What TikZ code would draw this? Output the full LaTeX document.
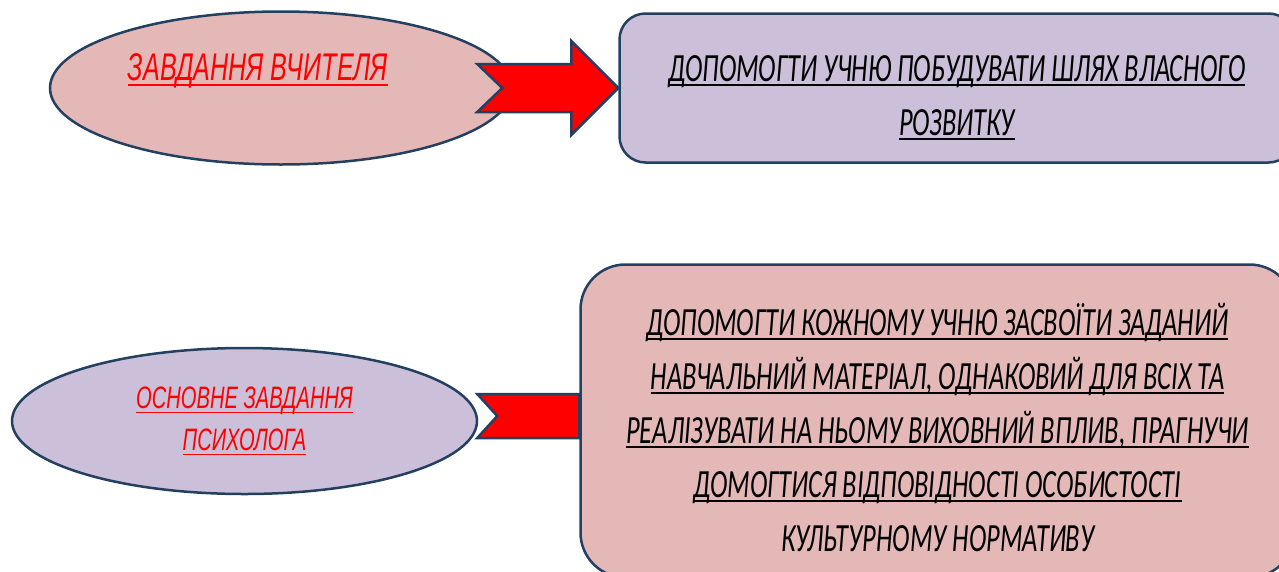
\documentclass[tikz,border=0pt]{standalone}
\usepackage{fontspec}
\usepackage{xcolor}
\usepackage{tikz}
\usetikzlibrary{positioning,backgrounds,shapes.geometric}
\newfontfamily\policeboite[FakeStretch=0.66]{Carlito}
\newfontfamily\policeovale[FakeStretch=0.65]{Liberation Sans}
\definecolor{pastelpink}{rgb}{0.90, 0.72, 0.72}
\definecolor{lavendergray}{rgb}{0.80, 0.75, 0.85}
\definecolor{contourbleu}{rgb}{0.14, 0.25, 0.38}
\newcommand\souligne[2][2pt]{\setbox0\hbox{#2}\rlap{\rule[-5pt]{\wd0}{#1}}\box0}
\newcommand\decale{\rule{0pt}{45pt}}

\begin{document}
\begin{tikzpicture}[x=1pt,y=-1pt]
        \tikzset{
          node distance=0pt,
          boite/.style={
            draw=contourbleu,line width=2.5pt,align=center,inner sep=0pt,
            font=\policeboite\itshape\fontsize{40}{54}\selectfont,text=black,
          },
          boite coins ronds/.style={boite,rounded corners=26pt},
          texte ovale/.style={
            align=center,text=red,
            font=\policeovale\itshape\fontsize{31}{42}\selectfont,
          },
          ovale/.style={boite,ellipse,texte ovale},
          fleche/.style={
            draw=contourbleu,line width=2.5pt,fill=red,line join=miter,
          },
          }
        \useasboundingbox (0,0) rectangle (1279,571);
        \node[ovale, fill=pastelpink, minimum width=462pt, minimum height=153pt,
          label={[texte ovale, font=\policeovale\itshape\fontsize{38.6}{44}\selectfont, xshift=-23pt, yshift=17pt]center:\souligne[1.5pt]{ЗАВДАННЯ ВЧИТЕЛЯ}}] (a) at (281,88) {};
        \node[boite coins ronds, fill=lavendergray, minimum width=675pt, minimum height=149pt, right=105pt of a] (b)
          {\decale\souligne{ДОПОМОГТИ УЧНЮ ПОБУДУВАТИ ШЛЯХ ВЛАСНОГО}\\ \souligne{РОЗВИТКУ}};
        \node[ovale, fill=lavendergray, minimum width=465pt, minimum height=146pt] (c) at (244.5,421)
          {\souligne[1.5pt]{ОСНОВНЕ ЗАВДАННЯ}\\ \souligne[1.5pt]{ПСИХОЛОГА}};
        \node[boite coins ronds, rounded corners=45pt, fill=pastelpink, minimum width=714pt, minimum height=313pt, right=101pt of c] (d)
          {\decale\souligne{ДОПОМОГТИ КОЖНОМУ УЧНЮ ЗАСВОЇТИ ЗАДАНИЙ}\\
           \souligne{НАВЧАЛЬНИЙ МАТЕРІАЛ, ОДНАКОВИЙ ДЛЯ ВСІХ ТА}\\
           \souligne{РЕАЛІЗУВАТИ НА НЬОМУ ВИХОВНИЙ ВПЛИВ, ПРАГНУЧИ}\\
           \souligne{ДОМОГТИСЯ ВІДПОВІДНОСТІ ОСОБИСТОСТІ}\\
           КУЛЬТУРНОМУ НОРМАТИВУ};

        \draw[fleche] (b.west) -- ++(-47,47) -- ++(0,-23) -- ++(-94,0) -- ++(25,-24)
          -- ++(-25,-24) -- ++(94,0) -- ++(0,-23) -- cycle;
        \begin{scope}[on background layer]
            \draw[fleche] ([yshift=5pt]d.west) -- ++(0,22) -- ++(-102,0) -- ++(20,-22)
              -- ++(-20,-22) -- ++(102,0) -- cycle;
        \end{scope}
      \end{tikzpicture}
\end{document}
